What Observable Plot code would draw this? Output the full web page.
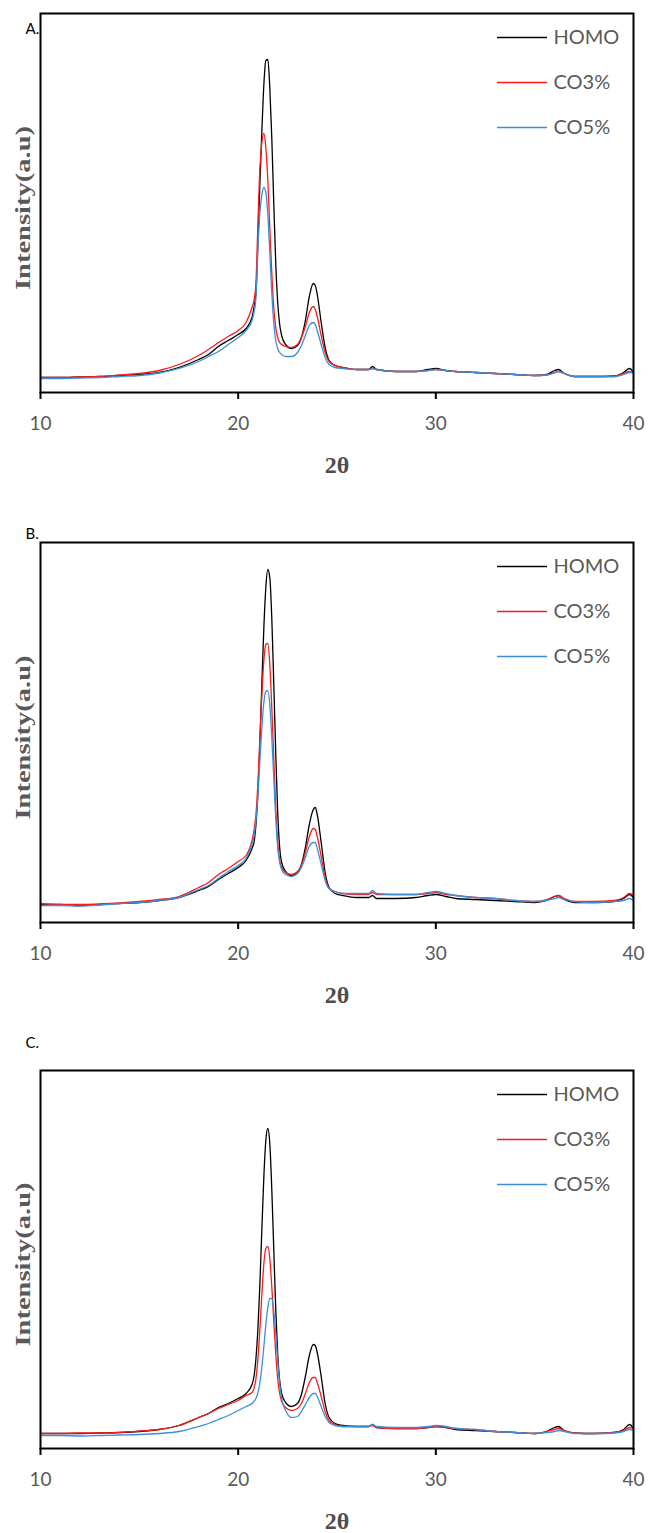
<!DOCTYPE html>
<html><head><meta charset="utf-8">
<script src="https://cdn.jsdelivr.net/npm/d3@7"></script>
<script src="https://cdn.jsdelivr.net/npm/@observablehq/plot@0.6"></script>
<style>
html,body{margin:0;padding:0;background:#fff;}
#chart svg{display:block;}
</style></head><body><div id="chart"></div>
<script>
// ---- data ----
const theta = [10,11,12,13,14,15,16,17,18,18.5,19,19.5,20,20.4,20.7,
  20.8,20.9,21.0,21.1,21.2,21.3,21.4,21.5,21.6,21.7,21.8,21.9,22.0,22.1,22.2,
  22.4,22.7,23.0,23.2,23.4,23.6,23.8,23.9,24.0,24.2,24.4,24.6,24.9,25.3,
  26,26.6,26.8,27,28,29,29.6,30,30.5,31,32,33,34,35,35.6,36.0,36.2,36.5,37,38,39,39.5,39.8,40];
const seriesNames = ["HOMO", "CO3%", "CO5%"];
const seriesColors = ["#000000", "#ff1a1a", "#3a8fd8"];
const panelLabels = ["A.", "B.", "C."];
const xTicks = [10, 20, 30, 40];
const xLabel = "2θ";
const yLabel = "Intensity(a.u)";

const A_HOMO = [15,15,15.5,16,17,18,20,25,33,38,46,52,58,64,75, 85,100,150,210,262,308,332,333,305,255,190,130,90,68,57, 48,44,47,55,72,96,109,107,98,70,45,32,27,25, 23,23,26,23,21,21,23,24,22,21,20,19,18,17,18,22,23,19,16,16,16.5,20,24,20];
const A_CO3  = [15,15,15.5,16,17.5,19,22,28,37,43,50,56,62,70,85, 92,110,170,225,250,259,245,212,165,120,85,65,55,50,48, 46,45,48,55,66,80,86,83,76,57,40,31,27,25, 23,23,24,23,21,21,22,23,22,21,20,19,18,17,17.5,20,21,19,16,16,16,19,21,19];
const A_CO5  = [14,14,14.5,15,16,17,19.5,24,31,36,41,48,55,62,72, 80,95,145,180,198,205,200,178,140,100,70,52,44,40,38, 36,36,40,47,57,67,70,68,62,48,35,28,25,24, 23,23,24,23,21,21,22,23,22,21,20,19,18,17,17.5,19.5,21,19,16,16,16,18,20,20];

const B_HOMO = [18,18,17,18,19,20,22,25,32,36,43,49,55,62,74, 80,98,130,180,240,295,335,353,345,305,240,170,110,75,60, 51,47,50,58,75,98,113,115,108,80,50,35,29,27, 25,25,27,24,24,25,27,28,26,24,23,22,21,20,22,26,27,23,20,20,21,24,28,25];
const B_CO3  = [19,18,18,18.5,19.5,21,23,26,35,40,48,54,61,67,82, 92,108,140,185,228,262,278,279,258,215,165,115,80,62,55, 50,48,51,57,70,86,94,93,86,66,45,34,31,29, 28,28,30,28,28,28,29,30,28,27,25,24,22,21,23,26,27,24,21,21,22,25,29,27];
const B_CO5  = [17,17,16.5,17.5,19,20,22,25,33,37,44,51,57,64,78, 86,102,128,162,195,220,231,232,218,185,145,105,75,60,53, 48,46,49,55,65,76,80,80,74,58,42,34,31,29, 29,29,32,29,28,28,30,31,29,27,25,24,22,21,22,24,25,23,21,20,21,22,24,22];

const C_HOMO = [15,15,15,15.5,16,17,19,23,31,35,41,45,50,55,64, 72,90,120,165,220,272,308,320,305,260,200,140,95,68,55, 46,42,45,54,72,93,104,103,96,72,45,31,25,23, 22,22,24,21,20,20,21,22,21,19,18,17,16,15,17,21,22,18,15.5,15,16,19,24,20];
const C_CO3  = [15,15,15.5,15.5,16,17.5,19,23,31,35,40,44,48,53,56, 60,70,90,120,155,185,200,202,190,162,128,95,70,55,47, 41,38,40,45,55,66,71,71,66,52,37,28,24,22, 22,22,23,21,20,20,21,22,21,20,19,17,16,15,17,19,20,18,15.5,15,16,18,21,20];
const C_CO5  = [13,13,12.5,13,13.5,14,15,17,22,25,29,33,38,42,45, 47,50,56,66,82,102,124,141,150,150,138,115,88,65,50, 38,31,32,37,44,51,55,55,52,42,32,26,23,22, 22,22,24,22,21,21,22,23,22,20,19,17,16,15,16,17,18,17,15,15,15.5,17,19,18];

// ---- layout ----
const W = 651, ML = 40, MR = 18;
const panels = [
  {label: panelLabels[0], series: [A_HOMO, A_CO3, A_CO5], height: 510, top: 13, bottom: 118, labelDy: 20},
  {label: panelLabels[1], series: [B_HOMO, B_CO3, B_CO5], height: 520, top: 32, bottom: 108, labelDy: -4},
  {label: panelLabels[2], series: [C_HOMO, C_CO3, C_CO5], height: 503, top: 40, bottom: 85, labelDy: -23}
];
const xDomain = [10, 40];
const px2t = px => xDomain[0] + (px - ML) / (W - ML - MR) * (xDomain[1] - xDomain[0]);
const sans = "Lato, 'Open Sans', sans-serif";
const serif = "'Liberation Serif', 'DejaVu Serif', serif";
const legendOffsets = [24, 69, 114];

const root = document.getElementById("chart");
for (const p of panels) {
  const yMax = p.height - p.top - p.bottom;
  const rows = [];
  p.series.forEach((arr, s) => arr.forEach((v, i) => rows.push({theta: theta[i], intensity: v, sample: seriesNames[s]})));
  const legendMarks = [];
  seriesNames.forEach((name, i) => {
    legendMarks.push(Plot.ruleY([yMax - legendOffsets[i]], {x1: px2t(497), x2: px2t(547), stroke: seriesColors[i], strokeWidth: 1.5}));
    legendMarks.push(Plot.text([name], {frameAnchor: "top-right", dx: -(W - MR - 553), dy: legendOffsets[i], textAnchor: "start", lineAnchor: "middle", fill: "#595959", fontSize: 20, fontFamily: sans}));
  });
  const svg = Plot.plot({
    width: W, height: p.height,
    marginLeft: ML, marginRight: MR, marginTop: p.top, marginBottom: p.bottom,
    style: {fontFamily: sans, fontSize: "19px", background: "#fff", overflow: "visible"},
    x: {domain: xDomain},
    y: {domain: [0, yMax], axis: null},
    color: {domain: seriesNames, range: seriesColors},
    marks: [
      Plot.line(rows, {x: "theta", y: "intensity", z: "sample", stroke: "sample", strokeWidth: 1.3, curve: "monotone-x"}),
      Plot.frame({stroke: "black", strokeWidth: 2}),
      Plot.axisX({ticks: xTicks, tickSize: 7, tickPadding: 17, stroke: "black", strokeWidth: 2, fill: "#595959", fontSize: 19, label: null, tickFormat: d => String(d)}),
      ...legendMarks,
      Plot.text([xLabel], {frameAnchor: "bottom", dy: 73, lineAnchor: "middle", textAnchor: "middle", fontFamily: serif, fontWeight: "bold", fontSize: 24, fill: "#4d4d4d"}),
      Plot.text([yLabel], {frameAnchor: "left", dx: -18, dy: 5, rotate: -90, lineAnchor: "middle", textAnchor: "middle", fontFamily: serif, fontWeight: "bold", fontSize: 22, fill: "#595959"}),
      Plot.text([p.label], {frameAnchor: "top-left", dx: -15, dy: p.labelDy, textAnchor: "start", lineAnchor: "bottom", fontFamily: sans, fontSize: 15, fill: "#000"})
    ]
  });
  d3.select(svg).selectAll("text").filter(function() { return this.textContent === yLabel; })
    .attr("textLength", 164).attr("lengthAdjust", "spacingAndGlyphs");
  root.appendChild(svg);
}
</script></body></html>
